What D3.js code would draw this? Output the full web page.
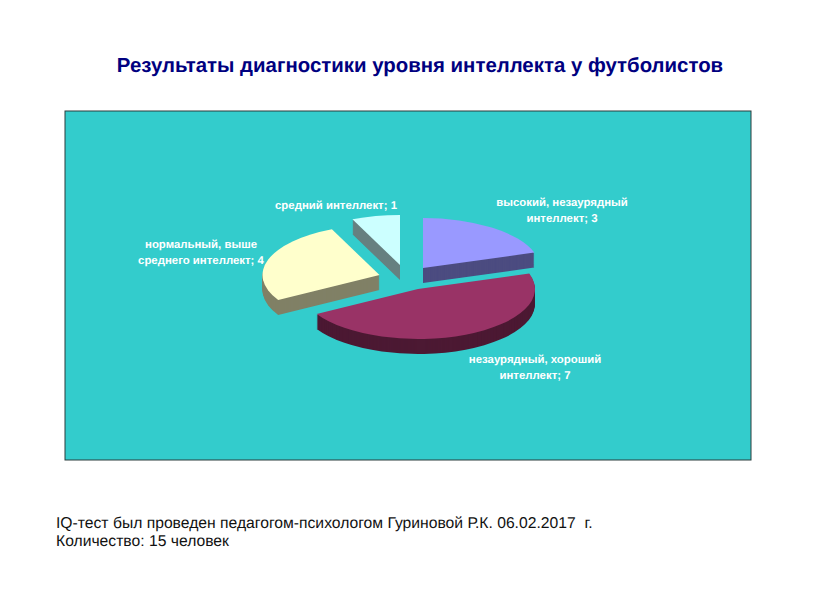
<!DOCTYPE html>
<html><head><meta charset="utf-8">
<script src="https://cdn.jsdelivr.net/npm/d3@7/dist/d3.min.js"></script>
<style>html,body{margin:0;padding:0;background:#fff;overflow:hidden}svg{display:block}text{font-family:"Liberation Sans",Arial,sans-serif;text-rendering:geometricPrecision}</style>
</head><body><svg id="c" width="816" height="613"></svg>
<script>
const categories = ["высокий, незаурядный интеллект","незаурядный, хороший интеллект","нормальный, выше среднего интеллект","средний интеллект"];
const values = [3,7,4,1];
const labelLines = [["высокий, незаурядный","интеллект; 3"],["незаурядный, хороший","интеллект; 7"],["нормальный, выше","среднего интеллект; 4"],["средний интеллект; 1"]];
const titleText = "Результаты диагностики уровня интеллекта у футболистов";
const noteLines = ["IQ-тест был проведен педагогом-психологом Гуриновой Р.К. 06.02.2017  г.","Количество: 15 человек"];

const topColors = ["#9999FF","#993366","#FFFFCC","#CCFFFF"];
const sideColors = ["#4C4C80","#4C1933","#808066","#668080"];
const apex = [[423,268],[418,289],[379.5,275],[400,265]];
const labelPos = [[562,206],[535,363],[201,248],[336,209]];
const rx = 117, ry = 50, depth = 15;

const svg = d3.select("#c");
svg.append("rect").attr("x",65).attr("y",111).attr("width",686).attr("height",349)
  .attr("fill","#33CCCC").attr("stroke","#2a3c3c").attr("stroke-width",1);
svg.append("text").attr("x",420).attr("y",72).attr("text-anchor","middle")
  .attr("font-size",20.4).attr("font-weight","bold").attr("fill","#000080").text(titleText);

const arcs = d3.pie().sort(null)(values);
const arc = d3.arc().innerRadius(0).outerRadius(rx);
const order = [3,2,0,1];
order.forEach(i=>{
  const g = svg.append("g");
  d3.range(depth,0,-1).forEach(k=>{
    g.append("path").attr("d",arc(arcs[i]))
      .attr("transform",`translate(${apex[i][0]},${apex[i][1]+k}) scale(1,${ry/rx})`)
      .attr("fill",sideColors[i]);
  });
  g.append("path").attr("d",arc(arcs[i]))
    .attr("transform",`translate(${apex[i][0]},${apex[i][1]}) scale(1,${ry/rx})`)
    .attr("fill",topColors[i]);
});

labelLines.forEach((lines,i)=>{
  const t = svg.append("text").attr("text-anchor","middle").attr("font-size",11.4).attr("font-weight","bold").attr("fill","#fff");
  lines.forEach((s,j)=>t.append("tspan").attr("x",labelPos[i][0]).attr("y",labelPos[i][1]+j*16).text(s));
});
noteLines.forEach((s,j)=>{
  svg.append("text").attr("x",56).attr("y",528+j*18).attr("font-size",15.7).attr("fill","#111")
    .attr("xml:space","preserve").style("white-space","pre").text(s);
});
</script></body></html>
